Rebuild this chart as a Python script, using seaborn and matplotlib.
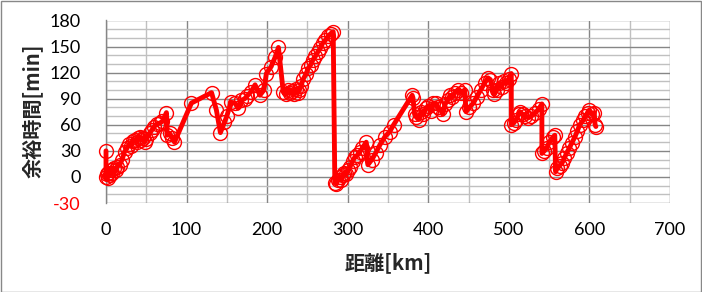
import numpy as np
import pandas as pd
import matplotlib
matplotlib.use("Agg")
import matplotlib.pyplot as plt
from matplotlib.patches import Rectangle
from matplotlib.ticker import MultipleLocator
import seaborn as sns

# ---- data ----
distance_km = [
    0, 0, 1, 2, 3, 5, 6, 8, 10, 12, 14, 17, 20, 23, 26, 29, 31, 33, 36, 38,
    40, 42, 44, 46, 48, 50, 54, 57, 60, 63, 67, 70, 75, 76, 79, 82, 85, 106, 131, 137,
    142, 147, 150, 155, 160, 164, 168, 172, 175, 180, 185, 191, 196, 199, 205, 210, 214, 220, 223, 226,
    228, 231, 233, 236, 238, 240, 242, 245, 248, 251, 254, 257, 260, 263, 266, 269, 272, 276, 279, 282,
    284, 286, 288, 290, 292, 294, 296, 298, 300, 303, 306, 309, 312, 315, 318, 323, 325, 330, 335, 340,
    346, 352, 357, 380, 381, 383, 385, 388, 391, 394, 397, 400, 403, 406, 409, 412, 415, 418, 421, 424,
    427, 430, 433, 437, 441, 445, 447, 451, 456, 460, 465, 470, 474, 477, 480, 482, 485, 488, 491, 494,
    497, 500, 503, 503, 506, 509, 512, 514, 517, 520, 524, 528, 533, 537, 541, 541, 544, 547, 550, 555,
    557, 558, 560, 563, 566, 569, 572, 575, 578, 582, 585, 588, 592, 595, 598, 600, 603, 606, 607, 608,
]
margin_min = [
    30, 0, 3, -1, 5, 2, 8, 5, 10, 8, 12, 14, 20, 29, 33, 38, 36, 41, 43, 40,
    45, 46, 43, 45, 40, 44, 50, 54, 58, 61, 62, 64, 74, 48, 50, 45, 40, 85, 97, 77,
    51, 63, 70, 86, 85, 79, 88, 90, 93, 98, 106, 94, 100, 119, 127, 138, 149, 98, 95, 100,
    96, 99, 95, 101, 97, 100, 105, 113, 118, 125, 129, 135, 139, 144, 148, 154, 157, 162, 165, 167,
    -7, -8, -3, 0, -4, 2, 5, 3, 8, 12, 18, 23, 25, 29, 33, 40, 14, 20, 28, 37,
    46, 52, 60, 94, 91, 72, 69, 66, 75, 72, 79, 82, 76, 85, 85, 80, 78, 72, 84, 88,
    94, 92, 97, 100, 97, 100, 75, 80, 85, 92, 100, 108, 114, 112, 100, 95, 100, 108, 104, 110,
    108, 113, 119, 60, 62, 66, 72, 75, 72, 70, 68, 70, 74, 78, 84, 27, 30, 33, 40, 46,
    48, 6, 10, 13, 16, 22, 28, 33, 39, 46, 53, 60, 65, 70, 74, 77, 72, 74, 60, 58,
]
x_ticks = [0, 100, 200, 300, 400, 500, 600, 700]
y_ticks = [-30, 0, 30, 60, 90, 120, 150, 180]
x_title = "距離[km]"
y_title = "余裕時間[min]"

df = pd.DataFrame({"km": distance_km, "min": margin_min})

# ---- style ----
sns.set_style("white")
plt.rcParams["font.family"] = ["Lato", "Noto Sans CJK JP", "DejaVu Sans"]

fig = plt.figure(figsize=(7.02, 2.92), dpi=100)
W, H = 702, 292
left, right, top, bottom = 106, 670, 20.5, 203
ax = fig.add_axes([left / W, 1 - bottom / H, (right - left) / W, (bottom - top) / H])

major_c = "#868686"
minor_c = "#c0c0c0"

ax.set_xlim(0, 700)
ax.set_ylim(-30, 180)
ax.set_xticks(x_ticks)
ax.set_yticks(y_ticks)
ax.xaxis.set_minor_locator(MultipleLocator(50))
ax.yaxis.set_minor_locator(MultipleLocator(10))
ax.grid(which="minor", color=minor_c, linewidth=1.0, zorder=0)
ax.grid(which="major", color=major_c, linewidth=1.0, zorder=0)
ax.set_axisbelow(True)

sns.lineplot(data=df, x="km", y="min", sort=False, estimator=None,
             color="#ff0000", linewidth=3.5, marker="o", markersize=10,
             markerfacecolor="none", markeredgecolor="#ff0000",
             markeredgewidth=1.0, ax=ax, clip_on=False, zorder=3)

for s in ["top", "right", "bottom"]:
    ax.spines[s].set_visible(False)
ax.spines["left"].set_color(major_c)
ax.spines["left"].set_linewidth(1.0)

ax.tick_params(axis="both", which="major", direction="out", length=5,
               width=1.0, color=major_c, labelsize=13, labelcolor="black")
ax.tick_params(axis="y", which="major", pad=13)
ax.tick_params(axis="x", which="major", pad=9)
ax.tick_params(which="minor", length=0)
ax.set_xticklabels([str(v) for v in x_ticks])
ax.set_yticklabels([str(v) for v in y_ticks])
for lab, v in zip(ax.get_yticklabels(), y_ticks):
    if v < 0:
        lab.set_color("#ff0000")

ax.set_xlabel(x_title, fontsize=14.5, fontweight="bold",
              family=["Noto Sans CJK JP", "DejaVu Sans"])
ax.set_ylabel(y_title, fontsize=14.5, fontweight="bold",
              family=["Noto Sans CJK JP", "DejaVu Sans"])
ax.xaxis.label.set_va("center")
ax.yaxis.label.set_va("center")
ax.xaxis.set_label_coords((388 - left) / (right - left), (bottom - 263) / (bottom - top))
ax.yaxis.set_label_coords((32 - left) / (right - left), (bottom - 111) / (bottom - top))

fig.patches.append(Rectangle((0.5 / W, 0.5 / H), 1 - 1.5 / W, 1 - 1.5 / H,
                             transform=fig.transFigure, fill=False,
                             edgecolor="#888888", linewidth=1.0))

fig.savefig("out.png", dpi=100)
